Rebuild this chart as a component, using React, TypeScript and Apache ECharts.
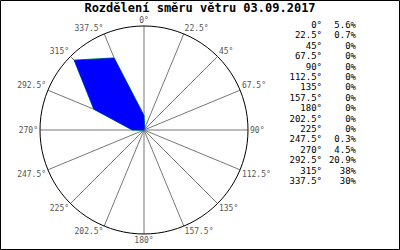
import React, { useEffect, useRef } from 'react';
import * as echarts from 'echarts';

const titleText = 'Rozdělení směru větru 03.09.2017';
const directions = [0, 22.5, 45, 67.5, 90, 112.5, 135, 157.5, 180, 202.5, 225, 247.5, 270, 292.5, 315, 337.5];
const directionLabels = ['0°', '22.5°', '45°', '67.5°', '90°', '112.5°', '135°', '157.5°', '180°', '202.5°', '225°', '247.5°', '270°', '292.5°', '315°', '337.5°'];
const shares = [5.6, 0.7, 0, 0, 0, 0, 0, 0, 0, 0, 0, 0.3, 4.5, 20.9, 38, 30];
const shareLabels = ['5.6%', '0.7%', '0%', '0%', '0%', '0%', '0%', '0%', '0%', '0%', '0%', '0.3%', '4.5%', '20.9%', '38%', '30%'];

const FONT = 'DejaVu Sans Mono';

export default function App() {
  const ref = useRef<HTMLDivElement>(null);
  useEffect(() => {
    if (!ref.current) return;
    const chart = echarts.init(ref.current, undefined, { renderer: 'svg' });
    const data = directions.map((d, i) => [shares[i], d]);
    data.push([shares[0], 360]);

    const tableTexts: any[] = [];
    directions.forEach((d, i) => {
      tableTexts.push({
        type: 'text',
        x: 322,
        y: 25 + i * 10.4,
        style: {
          text: directionLabels[i],
          align: 'right',
          verticalAlign: 'middle',
          fill: '#000',
          font: `9px "${FONT}"`,
        },
      });
      tableTexts.push({
        type: 'text',
        x: 356,
        y: 25 + i * 10.4,
        style: {
          text: shareLabels[i],
          align: 'right',
          verticalAlign: 'middle',
          fill: '#000',
          font: `9px "${FONT}"`,
        },
      });
    });

    chart.setOption({
      animation: false,
      backgroundColor: '#fff',
      title: {
        text: titleText,
        left: 'center',
        top: 0,
        padding: [2, 5, 2, 5],
        textStyle: { fontFamily: FONT, fontWeight: 'bold', fontSize: 12, color: '#000' },
      },
      polar: { center: [144, 130], radius: 104 },
      angleAxis: {
        type: 'value',
        min: 0,
        max: 360,
        interval: 22.5,
        startAngle: 90,
        clockwise: true,
        axisLine: { show: true, lineStyle: { color: '#000', width: 1 } },
        axisTick: { show: false },
        splitLine: { show: true, lineStyle: { color: '#777', width: 1 } },
        axisLabel: {
          show: true,
          margin: 2,
          color: '#555',
          fontFamily: FONT,
          fontSize: 8,
          formatter: (v: number) => {
            const i = directions.indexOf(v);
            return i >= 0 ? directionLabels[i] : '';
          },
        },
      },
      radiusAxis: {
        type: 'value',
        min: 0,
        max: 40,
        axisLine: { show: false },
        axisTick: { show: false },
        axisLabel: { show: false },
        splitLine: { show: false },
      },
      series: [
        {
          type: 'line',
          coordinateSystem: 'polar',
          data,
          symbol: 'none',
          z: 2,
          lineStyle: { color: '#00ff00', width: 1 },
        },
        {
          type: 'line',
          coordinateSystem: 'polar',
          data,
          symbol: 'none',
          z: 3,
          lineStyle: { color: '#0000ff', width: 0.5 },
          areaStyle: { color: '#0000ff', opacity: 1 },
        },
      ],
      graphic: [
        {
          type: 'rect',
          shape: { x: 0.5, y: 0.5, width: 399, height: 249 },
          style: { fill: 'none', stroke: '#000', lineWidth: 1 },
          z: 100,
        },
        ...tableTexts,
      ],
    });
    return () => chart.dispose();
  }, []);
  return <div ref={ref} style={{ position: 'fixed', left: 0, top: 0, width: 400, height: 250 }} />;
}
